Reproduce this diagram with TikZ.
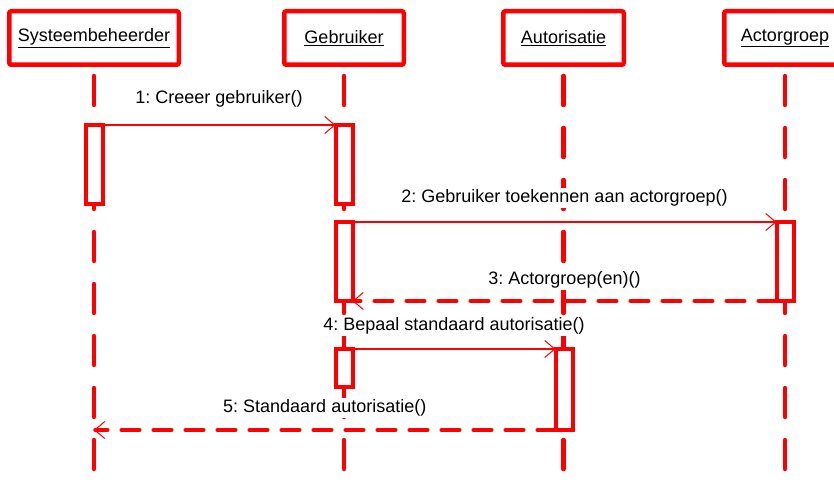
\documentclass[tikz,border=0pt]{standalone}
\usepackage{fontspec}
\setmainfont{Liberation Sans}
\usepackage{tikz}
\usetikzlibrary{arrows.meta, positioning, calc}
\definecolor{uml}{RGB}{255, 0, 0}
\frenchspacing

\begin{document}
\begin{tikzpicture}[
  x=1pt, y=-1pt,
  font=\fontsize{18}{21}\selectfont,
  obj/.style={draw=uml, line width=4.5pt, rounded corners=2pt, minimum height=53.5pt,
              fill=white, align=center},
  life/.style={draw=uml, line width=4.5pt, line cap=round,
               dash pattern=on 29pt off 23pt, dash phase=43pt},
  actv/.style={draw=uml, line width=4pt, fill=white, minimum width=17pt,
               inner sep=0pt, outer sep=0pt},
  msg/.style={uml, line width=1.8pt,
              -{Straight Barb[length=10pt, width=17pt, line width=1pt]}},
  ret/.style={uml, line width=4pt, line cap=round, dash pattern=on 18pt off 14pt,
              -{Straight Barb[length=10pt, width=17pt, line width=1pt]}},
  lbl/.style={fill=white, inner sep=2pt, text=black}
]
  \useasboundingbox (0,0) rectangle (834,489);

  % objects
  \node[obj, minimum width=169.5pt] (sys) at (94, 38) {\underline{Systeembeheerder}};
  \node[obj, minimum width=119.5pt] (geb) at (344, 38) {\underline{Gebruiker}};
  \node[obj, minimum width=120.5pt] (aut) at (563.5, 38) {\underline{Autorisatie}};
  \node[obj, minimum width=121.5pt] (act) at (785, 38) {\underline{Actorgroep}};

  % lifelines
  \coordinate (sysEnd) at (94, 474);
  \coordinate (gebEnd) at (344, 474);
  \coordinate (autEnd) at (563.5, 474);
  \coordinate (actEnd) at (785, 474);
  \draw[life] (sys) -- (sysEnd);
  \draw[life] (geb) -- (gebEnd);
  \draw[life] (aut) -- (autEnd);
  \draw[life] (act) -- (actEnd);

  % activations
  \node[actv, minimum height=79pt] (sys1) at (94, 164.5) {};
  \node[actv, minimum height=79pt] (geb1) at (344, 164.5) {};
  \node[actv, minimum height=79pt] (geb2) at (344, 261.5) {};
  \node[actv, minimum height=79pt] (act1) at (785, 261.5) {};
  \node[actv, minimum height=38pt] (geb3) at (344, 368) {};
  \node[actv, minimum height=81pt] (aut1) at (564, 389.5) {};

  % messages
  \draw[msg] (sys1.north east) -- node[lbl, midway, yshift=26pt] (m1) {1: Creeer gebruiker()} (geb1.north west);
  \draw[msg] (geb2.north east) -- node[lbl, midway, yshift=24pt] (m2) {2: Gebruiker toekennen aan actorgroep()} (act1.north west);
  \draw[ret] (act1.south west) -- node[lbl, midway, yshift=21pt] (m3) {3: Actorgroep(en)()} (geb2.south east);
  \draw[msg] (geb3.north east) -- node[lbl, midway, yshift=23pt] (m4) {4: Bepaal standaard autorisatie()} (aut1.north west);
  \draw[ret] (aut1.south west) -- node[lbl, midway, yshift=22pt] (m5) {5: Standaard autorisatie()} (aut1.south west -| sys);
\end{tikzpicture}
\end{document}
